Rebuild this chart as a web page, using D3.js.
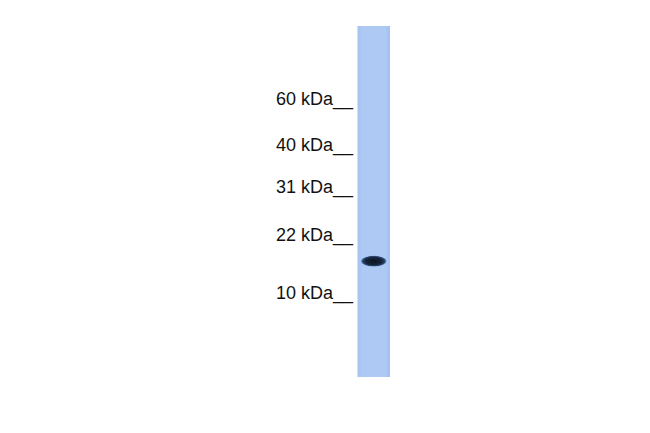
<!DOCTYPE html>
<html>
<head>
<meta charset="utf-8">
<script src="https://cdn.jsdelivr.net/npm/d3@7"></script>
<style>
  body { margin: 0; background: #fff; }
  svg { display: block; }
</style>
</head>
<body>
<svg id="chart"></svg>
<script>
// marker ladder: label, size and migration (fraction of lane length)
const markerLabels = ['60 kDa', '40 kDa', '31 kDa', '22 kDa', '10 kDa'];
const markerKDa = [60, 40, 31, 22, 10];
const markerRf = [0.225, 0.355, 0.477, 0.612, 0.778];

// detected band(s) in the sample lane
const bandRf = [0.670];
const bandIntensity = [1];

const width = 650, height = 433;
const lane = { x0: 357.5, x1: 390, top: 26, bottom: 377 };

const svg = d3.select('#chart').attr('width', width).attr('height', height);
svg.append('rect').attr('width', width).attr('height', height).attr('fill', '#fff');

const y = d3.scaleLinear().domain([0, 1]).range([lane.top, lane.bottom]);

const defs = svg.append('defs');
const lg = defs.append('linearGradient').attr('id', 'laneGrad')
  .attr('x1', '0%').attr('x2', '100%');
lg.append('stop').attr('offset', '0%').attr('stop-color', '#a4c2f1');
lg.append('stop').attr('offset', '15%').attr('stop-color', '#adc9f4');
lg.append('stop').attr('offset', '85%').attr('stop-color', '#adc9f4');
lg.append('stop').attr('offset', '100%').attr('stop-color', '#a2c0f0');

const rg = defs.append('radialGradient').attr('id', 'bandGrad');
rg.append('stop').attr('offset', '0%').attr('stop-color', '#0c1422');
rg.append('stop').attr('offset', '65%').attr('stop-color', '#16243a');
rg.append('stop').attr('offset', '88%').attr('stop-color', '#2f4c78');
rg.append('stop').attr('offset', '100%').attr('stop-color', '#7496cf').attr('stop-opacity', 0.4);

defs.append('filter').attr('id', 'soft')
  .append('feGaussianBlur').attr('stdDeviation', 0.6);

// lane
svg.append('rect')
  .attr('x', lane.x0).attr('y', lane.top)
  .attr('width', lane.x1 - lane.x0).attr('height', lane.bottom - lane.top)
  .attr('fill', 'url(#laneGrad)');

// bands
const cx = (lane.x0 + lane.x1) / 2;
svg.selectAll('.band')
  .data(bandRf.map((r, i) => ({ r, k: bandIntensity[i] })))
  .enter().append('ellipse')
  .attr('class', 'band')
  .attr('cx', cx)
  .attr('cy', d => y(d.r))
  .attr('rx', 13)
  .attr('ry', 5.6)
  .attr('opacity', d => d.k)
  .attr('fill', 'url(#bandGrad)')
  .attr('filter', 'url(#soft)');

// marker labels
svg.selectAll('.marker')
  .data(markerLabels.map((t, i) => ({ t, kda: markerKDa[i], r: markerRf[i] })))
  .enter().append('text')
  .attr('class', 'marker')
  .attr('x', 353)
  .attr('y', d => y(d.r))
  .attr('text-anchor', 'end')
  .attr('font-family', '"Liberation Sans", Arial, sans-serif')
  .attr('font-size', 18)
  .attr('fill', '#111')
  .text(d => d.t + '__');
</script>
</body>
</html>
